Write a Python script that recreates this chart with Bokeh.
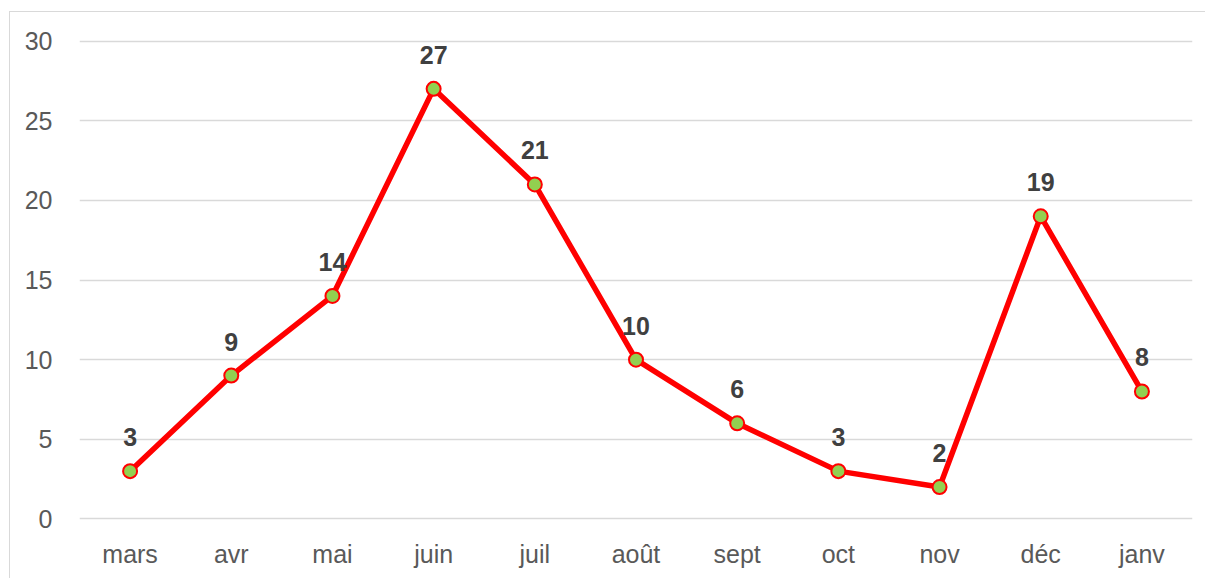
from bokeh.plotting import figure
from bokeh.models import ColumnDataSource, FixedTicker, Range1d
from bokeh.core.properties import value
from bokeh.embed import file_html
from bokeh.resources import INLINE

months = ["mars", "avr", "mai", "juin", "juil", "août", "sept", "oct", "nov", "déc", "janv"]
counts = [3, 9, 14, 27, 21, 10, 6, 3, 2, 19, 8]
y_ticks = [0, 5, 10, 15, 20, 25, 30]

FONT = "Liberation Sans"

src = ColumnDataSource(dict(x=months, y=counts, lbl=[str(c) for c in counts]))

p = figure(x_range=months, y_range=Range1d(-0.1, 30.1), width=1196, height=567,
           output_backend="svg", toolbar_location=None,
           min_border_left=69, min_border_right=14, min_border_top=27, min_border_bottom=59)
p.styles = {"border-left": "1px solid #d9d9d9", "border-top": "1px solid #d9d9d9",
            "margin-top": "11px", "margin-left": "9px"}
p.outline_line_color = None
p.xgrid.grid_line_color = None
p.ygrid.grid_line_color = "#d9d9d9"
p.ygrid.grid_line_width = 1.5
p.yaxis.ticker = FixedTicker(ticks=y_ticks)
for ax in (p.xaxis[0], p.yaxis[0]):
    ax.axis_line_color = None
    ax.major_tick_line_color = None
    ax.minor_tick_line_color = None
    ax.major_label_text_font = FONT
    ax.major_label_text_font_size = "25px"
    ax.major_label_text_color = "#595959"
p.yaxis.major_label_standoff = 21
p.xaxis.major_label_standoff = 13

p.line("x", "y", source=src, line_color="#ff0000", line_width=5.5)
p.scatter("x", "y", source=src, size=14, fill_color="#92d050", line_color="#ff0000", line_width=2)
p.text("x", "y", text="lbl", source=src, text_font=value(FONT), text_font_style="bold",
       text_font_size="25px", text_color="#404040", text_align="center",
       text_baseline="middle", y_offset=-34)

open("out.html", "w").write(file_html(p, INLINE))
